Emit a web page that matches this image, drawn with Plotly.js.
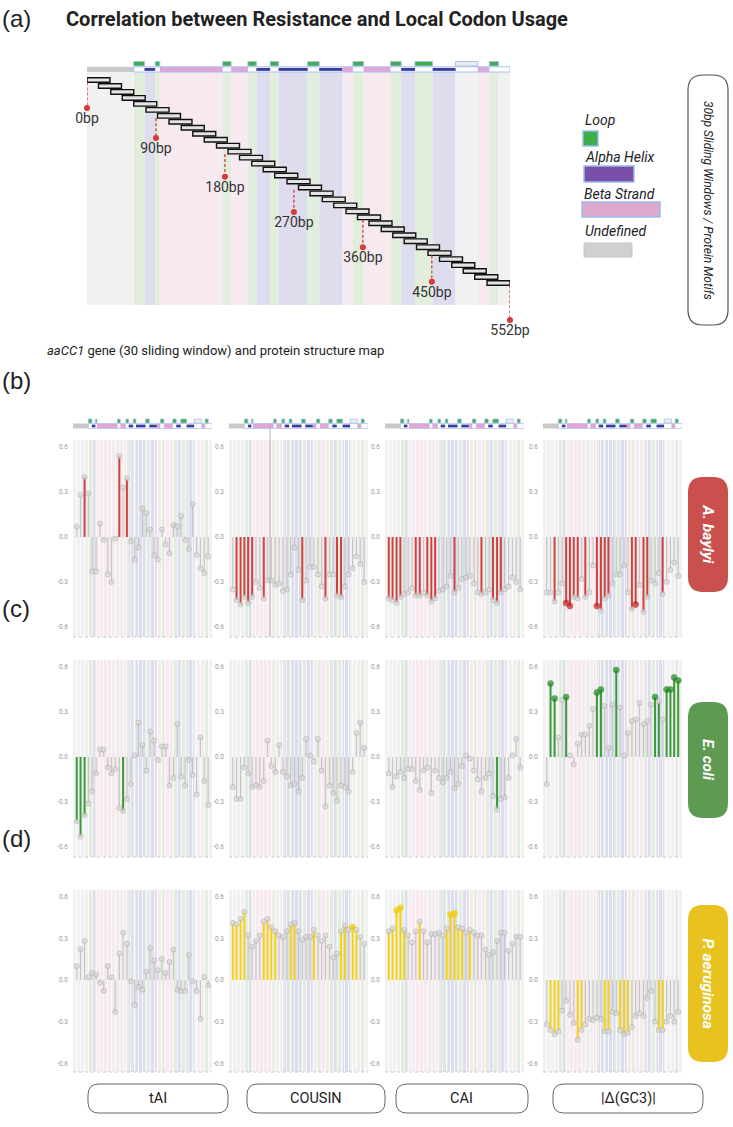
<!DOCTYPE html>
<html>
<head>
<meta charset="utf-8">
<script src="https://cdn.plot.ly/plotly-3.0.1.min.js"></script>
<style>
  html, body { margin: 0; padding: 0; background: #fff; }
  #chart { width: 733px; height: 1127px; }
</style>
</head>
<body>
<div id="chart"></div>
<script>
const W = 733, H = 1127;
const FONT = 'Roboto, "Liberation Sans", Arial, sans-serif';
const LABEL_FONT = '"Liberation Sans", Arial, sans-serif';

// ---------------- gene, windows and protein motifs ----------------
const geneLength = 552;
const windowLength = 30;
const windowStart = [0, 15, 31, 46, 61, 77, 92, 107, 123, 138, 153, 169, 184, 199, 215, 230, 245, 261, 276,
                     291, 307, 322, 338, 353, 368, 384, 399, 414, 430, 445, 460, 476, 491, 506, 522];

// secondary structure segments along the gene (bp); L loop, H alpha helix, S beta strand, U undefined
const motifStart = [0, 61, 75, 89, 95, 177, 188, 210, 221, 239, 250, 288, 303, 333, 347, 361, 396, 410, 428, 451, 481, 510, 525, 537];
const motifEnd   = [61, 75, 89, 95, 177, 188, 210, 221, 239, 250, 288, 303, 333, 347, 361, 396, 410, 428, 451, 481, 510, 525, 537, 552];
const motifType  = ['U', 'L', 'H', 'L', 'S', 'L', 'S', 'L', 'H', 'L', 'H', 'L', 'H', 'S', 'L', 'S', 'L', 'H', 'L', 'H', 'U', 'S', 'L', 'U'];

// position markers: bp, window row they hang from, row of the pin head
const markerBp     = [0, 90, 180, 270, 360, 450, 552];
const markerLabel  = ['0bp', '90bp', '180bp', '270bp', '360bp', '450bp', '552bp'];
const markerRow    = [0, 6, 12, 18, 23, 29, 34];
const markerPinRow = [4.7, 9.7, 16.2, 22.1, 28.0, 33.8, 40.2];

const metricNames  = ['tAI', 'COUSIN', 'CAI', '|Δ(GC3)|'];
const speciesNames = ['A. baylyi', 'E. coli', 'P. aeruginosa'];
const yTickVals = [-0.6, -0.3, 0, 0.3, 0.6];
const yTickText = ['-0.6', '-0.3', '0.0', '0.3', '0.6'];

// ---------------- correlation per window ----------------
const baylyiTAI    = [0.07, 0.28, 0.40, 0.29, -0.23, -0.23, 0.09, -0.02, -0.25, -0.30, -0.01, 0.54, 0.33, 0.39, -0.03, -0.15, -0.07, 0.19, 0.16, 0.05, -0.12, -0.15, 0.05, -0.05, -0.11, 0.08, 0.07, 0.14, -0.02, -0.08, 0.22, -0.12, -0.21, -0.24, -0.13];
const baylyiCOUSIN = [-0.35, -0.42, -0.45, -0.40, -0.44, -0.40, -0.30, -0.34, -0.41, -0.29, -0.29, -0.32, -0.31, -0.36, -0.35, -0.25, -0.07, -0.22, -0.42, -0.29, -0.20, -0.20, -0.25, -0.33, -0.41, -0.25, -0.25, -0.39, -0.40, -0.33, -0.25, -0.21, -0.13, -0.18, -0.30];
const baylyiCAI    = [-0.41, -0.42, -0.44, -0.40, -0.38, -0.37, -0.34, -0.39, -0.39, -0.37, -0.39, -0.43, -0.41, -0.36, -0.35, -0.33, -0.26, -0.37, -0.34, -0.28, -0.27, -0.26, -0.31, -0.37, -0.38, -0.37, -0.35, -0.42, -0.44, -0.37, -0.35, -0.33, -0.27, -0.30, -0.35];
const baylyiGC3    = [-0.37, -0.37, -0.43, -0.37, -0.31, -0.44, -0.46, -0.40, -0.41, -0.28, -0.40, -0.37, -0.19, -0.46, -0.49, -0.41, -0.39, -0.31, -0.25, -0.25, -0.19, -0.37, -0.48, -0.45, -0.32, -0.50, -0.40, -0.29, -0.31, -0.24, -0.38, -0.30, -0.22, -0.17, -0.26];

const coliTAI    = [-0.43, -0.53, -0.39, -0.31, -0.23, -0.11, 0.05, 0.05, -0.07, -0.11, -0.08, -0.34, -0.36, -0.28, -0.18, 0.01, 0.23, 0.08, -0.09, 0.17, 0.11, -0.02, 0.07, 0.07, -0.19, -0.14, 0.22, -0.13, -0.19, -0.02, -0.12, -0.25, 0.13, -0.16, -0.32];
const coliCOUSIN = [-0.20, -0.28, -0.28, -0.07, -0.11, -0.20, -0.19, -0.20, -0.16, 0.11, -0.06, -0.10, 0.08, -0.10, -0.13, -0.19, -0.18, -0.23, -0.14, 0.12, 0.01, -0.03, 0.12, -0.09, -0.33, -0.19, -0.24, -0.29, -0.19, -0.20, -0.23, -0.10, 0.16, 0.23, 0.06];
const coliCAI    = [-0.11, -0.20, -0.13, -0.10, -0.14, -0.08, -0.08, -0.16, -0.22, -0.09, -0.07, -0.24, -0.09, -0.14, -0.17, -0.14, -0.10, -0.21, -0.18, -0.06, 0.01, -0.01, -0.09, -0.15, -0.23, -0.14, -0.11, -0.26, -0.35, -0.28, -0.27, -0.14, 0.01, 0.12, -0.07];
const coliGC3    = [-0.18, 0.49, 0.39, 0.13, 0.38, 0.40, 0.01, -0.05, 0.09, 0.15, 0.15, 0.21, 0.32, 0.43, 0.45, 0.34, 0.06, 0.35, 0.58, 0.33, 0.01, 0.16, 0.24, 0.25, 0.36, 0.22, 0.24, 0.35, 0.40, 0.37, 0.25, 0.45, 0.45, 0.53, 0.51];

const aeruginosaTAI    = [0.10, 0.22, 0.28, 0.02, 0.05, 0.04, -0.02, -0.08, 0.10, 0.02, -0.23, 0.19, 0.34, 0.26, -0.01, -0.18, -0.05, -0.07, 0.06, 0.23, 0.14, 0.07, 0.15, 0.05, 0.13, 0.22, -0.07, -0.08, -0.08, 0.18, -0.01, -0.08, -0.28, 0.02, -0.04];
const aeruginosaCOUSIN = [0.41, 0.40, 0.44, 0.49, 0.32, 0.24, 0.28, 0.32, 0.42, 0.44, 0.38, 0.35, 0.32, 0.31, 0.35, 0.40, 0.41, 0.35, 0.29, 0.31, 0.31, 0.36, 0.32, 0.28, 0.32, 0.24, 0.16, 0.19, 0.35, 0.39, 0.36, 0.38, 0.36, 0.31, 0.26];
const aeruginosaCAI    = [0.35, 0.37, 0.50, 0.52, 0.36, 0.32, 0.27, 0.35, 0.42, 0.35, 0.27, 0.33, 0.33, 0.34, 0.32, 0.37, 0.47, 0.48, 0.38, 0.37, 0.34, 0.36, 0.34, 0.32, 0.32, 0.22, 0.18, 0.20, 0.28, 0.34, 0.34, 0.21, 0.26, 0.31, 0.31];
const aeruginosaGC3    = [-0.32, -0.36, -0.39, -0.37, -0.22, -0.15, -0.25, -0.31, -0.43, -0.36, -0.32, -0.28, -0.29, -0.27, -0.28, -0.37, -0.37, -0.23, -0.24, -0.36, -0.39, -0.38, -0.34, -0.26, -0.24, -0.26, -0.13, -0.08, -0.30, -0.36, -0.36, -0.30, -0.26, -0.30, -0.23];

// windows whose correlation is significant (stem coloured), and those with a coloured head
const baylyiTAISig    = [2, 11, 13];
const baylyiCOUSINSig = [1, 2, 3, 4, 5, 8, 18, 24, 27, 28];
const baylyiCAISig    = [0, 1, 2, 3, 7, 8, 10, 11, 12, 17, 24, 27, 28, 29];
const baylyiGC3Sig    = [2, 5, 6, 7, 8, 10, 13, 14, 15, 16, 22, 23, 25, 26, 30];
const baylyiGC3Head   = [5, 6, 13, 23];
const coliTAISig      = [0, 1, 2, 12];
const coliCAISig      = [28];
const coliGC3Sig      = [1, 2, 5, 13, 14, 18, 28, 29, 31, 32, 33, 34];
const coliGC3Head     = [1, 2, 5, 13, 14, 18, 28, 31, 32, 33, 34];
const aeruginosaCOUSINSig  = [0, 1, 2, 3, 8, 9, 10, 11, 15, 16, 21, 28, 29, 31, 32];
const aeruginosaCOUSINHead = [31];
const aeruginosaCAISig     = [0, 1, 2, 3, 4, 8, 15, 16, 17, 18, 19, 21];
const aeruginosaCAIHead    = [2, 3, 16, 17];
const aeruginosaGC3Sig     = [1, 2, 3, 8, 9, 15, 16, 19, 20, 21, 29, 30];

const panelData = [
  [[baylyiTAI, baylyiTAISig, []], [baylyiCOUSIN, baylyiCOUSINSig, []], [baylyiCAI, baylyiCAISig, []], [baylyiGC3, baylyiGC3Sig, baylyiGC3Head]],
  [[coliTAI, coliTAISig, []], [coliCOUSIN, [], []], [coliCAI, coliCAISig, []], [coliGC3, coliGC3Sig, coliGC3Head]],
  [[aeruginosaTAI, [], []], [aeruginosaCOUSIN, aeruginosaCOUSINSig, aeruginosaCOUSINHead], [aeruginosaCAI, aeruginosaCAISig, aeruginosaCAIHead], [aeruginosaGC3, aeruginosaGC3Sig, []]]
];

// ---------------- styling ----------------
const speciesColor = [
  { stem: '#d0423e', head: '#c41f1f', box: '#c9504c' },
  { stem: '#3b9a3b', head: '#1e8a23', box: '#5f9a52' },
  { stem: '#f4d119', head: '#f2c900', box: '#e8c31f' }
];
const bandColor = { U: '#f1f1f1', L: '#e2eedc', H: '#dedded', S: '#f7e9f0' };
const strokeBlue = '#a7c1ef';

const PX = x => x / W;
const PY = y => 1 - y / H;

const shapes = [], annotations = [], traces = [];
const layout = {
  width: W, height: H,
  margin: { l: 0, r: 0, t: 0, b: 0 },
  paper_bgcolor: '#ffffff', plot_bgcolor: 'rgba(0,0,0,0)',
  showlegend: false, font: { family: FONT, color: '#222' },
  shapes, annotations
};

function rect(xref, yref, x0, x1, y0, y1, fill, line, layer) {
  shapes.push({ type: 'rect', xref, yref, x0, x1, y0, y1, fillcolor: fill,
                line: line || { width: 0 }, layer: layer || 'below' });
}
function roundBox(x0, y0, x1, y1, r, fill, line) {
  const X = v => (v / W).toFixed(5), Y = v => (1 - v / H).toFixed(5);
  const path = `M${X(x0 + r)},${Y(y0)} L${X(x1 - r)},${Y(y0)} Q${X(x1)},${Y(y0)} ${X(x1)},${Y(y0 + r)} ` +
    `L${X(x1)},${Y(y1 - r)} Q${X(x1)},${Y(y1)} ${X(x1 - r)},${Y(y1)} L${X(x0 + r)},${Y(y1)} ` +
    `Q${X(x0)},${Y(y1)} ${X(x0)},${Y(y1 - r)} L${X(x0)},${Y(y0 + r)} Q${X(x0)},${Y(y0)} ${X(x0 + r)},${Y(y0)} Z`;
  shapes.push({ type: 'path', xref: 'paper', yref: 'paper', path, fillcolor: fill, line: line, layer: 'above' });
}
function text(x, y, s, size, opts) {
  annotations.push(Object.assign({ xref: 'paper', yref: 'paper', x: PX(x), y: PY(y), text: s, showarrow: false,
    xanchor: 'left', yanchor: 'middle', font: { family: FONT, size, color: '#222' } }, opts || {}));
}

// protein structure track (two rows: loops on top, helix/strand below)
function motifStrip(xref, up0, up1, lo0, lo1, lw) {
  for (let i = 0; i < motifType.length; i++) {
    const a = motifStart[i], b = motifEnd[i], t = motifType[i];
    if (t === 'L') rect(xref, 'paper', a, b, PY(up1), PY(up0), '#3fae49', { color: strokeBlue, width: lw }, 'above');
    else if (t === 'S') rect(xref, 'paper', a, b, PY(lo1), PY(lo0), '#e2a6d6', { width: 0 }, 'above');
    else if (t === 'H') {
      const h = lo1 - lo0;
      rect(xref, 'paper', a, b, PY(lo1 - h * 0.22), PY(lo0 + h * 0.22), '#3b3c9e', { width: 0 }, 'above');
    } else if (a === 0) rect(xref, 'paper', a, b, PY(lo1), PY(lo0), '#c9c9c9', { width: 0 }, 'above');
    else if (b < geneLength) rect(xref, 'paper', a, b, PY(up1), PY(up0), '#ececec', { color: strokeBlue, width: lw }, 'above');
  }
  rect(xref, 'paper', motifEnd[0], geneLength, PY(lo1), PY(lo0), 'rgba(0,0,0,0)', { color: strokeBlue, width: lw }, 'above');
}

// ---------------- (a) sliding windows over the structure map ----------------
const aTop = 72, aBottom = 305, aAxisBottom = 345, rowTop = 80, rowStep = 5.97;
const rowAt = y => (y - rowTop) / rowStep;
layout.xaxis = { domain: [PX(87), PX(510)], range: [0, geneLength], visible: false, fixedrange: true };
layout.yaxis = { domain: [PY(aAxisBottom), PY(aTop)], range: [rowAt(aAxisBottom), rowAt(aTop)], visible: false, fixedrange: true };
for (let i = 0; i < motifType.length; i++)
  rect('x', 'y', motifStart[i], motifEnd[i], rowAt(aBottom), rowAt(aTop), bandColor[motifType[i]]);
motifStrip('x', 61.5, 66, 66.8, 72, 1);

traces.push({
  type: 'bar', orientation: 'h', xaxis: 'x', yaxis: 'y',
  y: windowStart.map((_, i) => i), x: windowStart.map(() => windowLength), base: windowStart,
  width: 0.76, marker: { color: '#e4e4e4', line: { color: '#111', width: 1.4 } }, hoverinfo: 'skip'
});
markerBp.forEach((bp, k) => {
  traces.push({ type: 'scatter', mode: 'lines', xaxis: 'x', yaxis: 'y', x: [bp, bp],
    y: [markerRow[k] + 0.4, markerPinRow[k]], cliponaxis: false, hoverinfo: 'skip',
    line: { color: '#d63a3a', width: 1.3, dash: '3px,2px' } });
});
traces.push({ type: 'scatter', mode: 'markers+text', xaxis: 'x', yaxis: 'y', x: markerBp,
  y: markerPinRow, text: markerLabel, textposition: 'bottom center', cliponaxis: false,
  marker: { size: 6, color: '#d63a3a' }, textfont: { family: FONT, size: 14, color: '#333' }, hoverinfo: 'skip' });

text(0, 18, '(a)', 24, { font: { family: LABEL_FONT, size: 24, color: '#222' } });
text(64, 19, '<b>Correlation between Resistance and Local Codon Usage</b>', 20);

// structure legend
text(583, 120, '<i>Loop</i>', 14);
rect('paper', 'paper', PX(583), PX(598), PY(146), PY(131), '#3fae49', { color: '#9dbcf0', width: 1.5 }, 'above');
text(583, 157, '<i>Alpha Helix</i>', 14);
rect('paper', 'paper', PX(584), PX(634), PY(182), PY(166), '#7a4fa8', { color: '#9dbcf0', width: 1.5 }, 'above');
text(582, 194, '<i>Beta Strand</i>', 14);
rect('paper', 'paper', PX(582), PX(660), PY(217), PY(202), '#dca8cc', { color: '#9dbcf0', width: 1.5 }, 'above');
text(583, 231, '<i>Undefined</i>', 14);
rect('paper', 'paper', PX(584), PX(632), PY(257), PY(243), '#d0d0d0', { color: '#c4c4c4', width: 1 }, 'above');

roundBox(688, 75, 728, 325, 15, '#ffffff', { color: '#555', width: 1.2 });
text(708, 200, '<i>30bp Sliding Windows / Protein Motifs</i>', 12, { xanchor: 'center', textangle: 90 });

text(45, 351, '<i>aaCC1</i> gene (30 sliding window) and protein structure map', 13);

// ---------------- (b)-(d) lollipop panels ----------------
const colX = [[73, 212], [229, 368], [385, 524], [543, 682]];
const rowY = [[440, 637], [660, 857], [890, 1072]];
const rowRange = [[-0.667, 0.647], [-0.667, 0.647], [-0.662, 0.647]];
const stemX = windowStart.map(s => s + windowLength / 2);

for (let r = 0; r < 3; r++) {
  for (let c = 0; c < 4; c++) {
    const n = r * 4 + c + 2, xa = 'x' + n, ya = 'y' + n;
    const [values, sig, head] = panelData[r][c];
    const col = speciesColor[r];
    layout['xaxis' + n] = { domain: [PX(colX[c][0]), PX(colX[c][1])], range: [0, geneLength], anchor: ya,
      showgrid: true, gridcolor: 'rgba(255,255,255,0.7)', gridwidth: 1, tickvals: stemX,
      showticklabels: false, ticks: '', zeroline: false, showline: false, fixedrange: true };
    layout['yaxis' + n] = { domain: [PY(rowY[r][1]), PY(rowY[r][0])], range: rowRange[r], anchor: xa,
      tickvals: yTickVals, ticktext: yTickText, tickfont: { family: FONT, size: 6.5, color: '#999' },
      ticklabelstandoff: 4, showgrid: false, zeroline: false, ticks: '', showline: false, fixedrange: true };
    for (let i = 0; i < motifType.length; i++)
      rect(xa, ya + ' domain', motifStart[i], motifEnd[i], 0, 1, bandColor[motifType[i]]);
    shapes.push({ type: 'line', xref: xa + ' domain', yref: ya + ' domain', x0: 0, x1: 1, y0: 0, y1: 0,
      line: { color: '#c8c8c8', width: 1, dash: 'dot' }, layer: 'below' });
    if (r === 0) motifStrip(xa, 419, 423, 423.5, 428.5, 0.7);

    const isSig = values.map((_, i) => sig.includes(i));
    const isHead = values.map((_, i) => head.includes(i));
    traces.push({ type: 'bar', xaxis: xa, yaxis: ya, x: stemX, y: values,
      width: isSig.map(s => s ? 8 : 5),
      marker: { color: isSig.map(s => s ? col.stem : '#c6c6c6'), line: { width: 0 } }, hoverinfo: 'skip' });
    traces.push({ type: 'scatter', mode: 'markers', xaxis: xa, yaxis: ya, x: stemX, y: values, cliponaxis: false,
      marker: { size: isHead.map(h => h ? 6 : 5), color: isHead.map(h => h ? col.head : '#d8d8d8'),
                line: { color: isHead.map(h => h ? col.head : '#aaaaaa'), width: 0.8 } }, hoverinfo: 'skip' });
  }
}

// a thin cursor line crossing the COUSIN panel of (b)
shapes.push({ type: 'line', xref: 'x3', yref: 'paper', x0: 163, x1: 163, y0: PY(637), y1: PY(423),
  line: { color: '#b3b3b3', width: 1 }, layer: 'above' });

text(0, 380, '(b)', 24, { font: { family: LABEL_FONT, size: 24, color: '#222' } });
text(0, 608, '(c)', 24, { font: { family: LABEL_FONT, size: 24, color: '#222' } });
text(0, 838, '(d)', 24, { font: { family: LABEL_FONT, size: 24, color: '#222' } });

// species tags
const speciesBoxY = [[477, 592], [702, 818], [905, 1062]];
speciesNames.forEach((s, k) => {
  const [y0, y1] = speciesBoxY[k];
  roundBox(688, y0, 728, y1, 15, speciesColor[k].box, { width: 0 });
  text(708, (y0 + y1) / 2, '<b><i>' + s + '</i></b>', 15.5,
    { xanchor: 'center', textangle: 90, font: { family: FONT, size: 15.5, color: '#ffffff' } });
});

// metric labels under the columns
const metricBoxX = [[88, 228], [247, 385], [396, 528], [553, 703]];
metricNames.forEach((m, c) => {
  const [x0, x1] = metricBoxX[c];
  roundBox(x0, 1084, x1, 1113, 11, '#ffffff', { color: '#666', width: 1 });
  text((x0 + x1) / 2, 1098.5, m, 14.5, { xanchor: 'center' });
});

Plotly.newPlot('chart', traces, layout, { staticPlot: true, displayModeBar: false });
</script>
</body>
</html>
